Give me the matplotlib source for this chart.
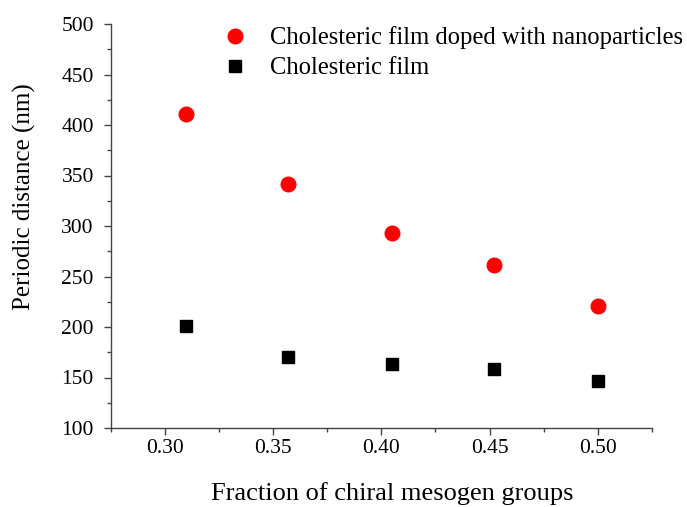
import numpy as np
import matplotlib
matplotlib.use("Agg")
import matplotlib.pyplot as plt
from matplotlib.ticker import MultipleLocator

plt.rcParams["font.family"] = ["Liberation Serif", "DejaVu Serif"]

fraction = [0.31, 0.357, 0.405, 0.452, 0.50]
doped_film = [411, 342, 293, 261, 221]
plain_film = [201, 170, 163, 158, 147]

W, H = 687, 507
fig = plt.figure(figsize=(W / 100, H / 100), dpi=100)
ax = fig.add_axes([110.5 / W, (H - 428) / H, 541.5 / W, 404 / H])

ax.plot(fraction, doped_film, "o", color="#ff0000", markersize=10.5,
        label="Cholesteric film doped with nanoparticles")
ax.plot(fraction, plain_film, "s", color="black", markersize=8.5,
        label="Cholesteric film")

ax.set_xlim(0.275, 0.525)
ax.set_ylim(100, 500)
ax.xaxis.set_major_locator(MultipleLocator(0.05))
ax.xaxis.set_minor_locator(MultipleLocator(0.025))
ax.yaxis.set_major_locator(MultipleLocator(50))
ax.yaxis.set_minor_locator(MultipleLocator(25))
ax.xaxis.set_major_formatter(plt.FormatStrFormatter("%.2f"))

for side in ["top", "right"]:
    ax.spines[side].set_visible(False)
for side in ["left", "bottom"]:
    ax.spines[side].set_color("#444444")
    ax.spines[side].set_linewidth(1.0)

ax.tick_params(which="major", direction="out", length=5, width=1.0,
               color="#444444", labelsize=15.5)
ax.tick_params(which="minor", direction="out", length=3, width=1.0,
               color="#444444")
ax.tick_params(axis="x", which="major", pad=3)
ax.tick_params(axis="y", which="major", pad=7)

ax.set_xlabel("Fraction of chiral mesogen groups", fontsize=19)
ax.xaxis.set_label_coords((392 - 110.5) / 541.5, (428 - 500) / 404)
ax.xaxis.label.set_va("baseline")
ax.set_ylabel("Periodic distance (nm)", fontsize=18)
ax.yaxis.set_label_coords((24 - 110.5) / 541.5, (428 - 196.5) / 404)
ax.yaxis.label.set_va("center")

ax.legend(loc="upper left", bbox_to_anchor=(0.176, 1.037), frameon=False,
          fontsize=17.75, handlelength=1.0, handletextpad=0.92,
          labelspacing=0.32, borderpad=0.2)

fig.savefig("out.png", dpi=100)
